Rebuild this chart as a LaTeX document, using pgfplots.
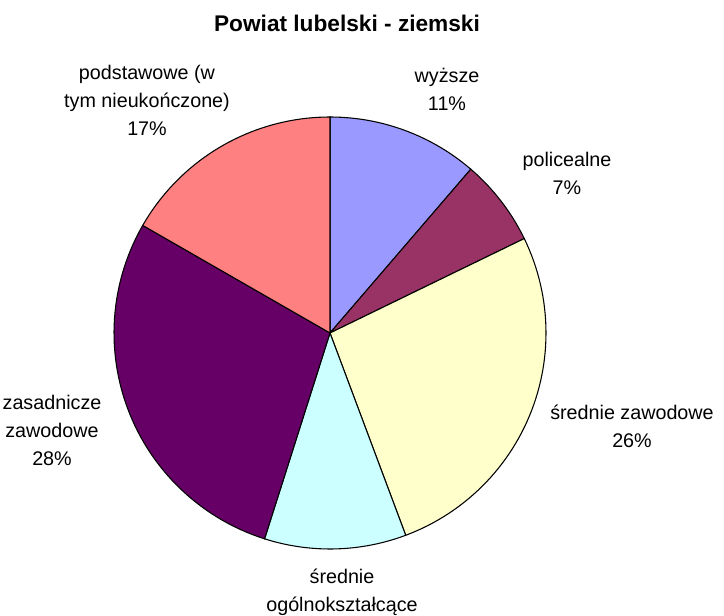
\documentclass[border=0pt]{standalone}
\usepackage{pgfplots}
\pgfplotsset{compat=1.18}
\usepackage{fontspec}
\setmainfont{Liberation Sans}
\definecolor{cA}{HTML}{9999FF}
\definecolor{cB}{HTML}{993366}
\definecolor{cC}{HTML}{FFFFCC}
\definecolor{cD}{HTML}{CCFFFF}
\definecolor{cE}{HTML}{660066}
\definecolor{cF}{HTML}{FF8080}
\begin{document}
\begin{tikzpicture}
\begin{axis}[hide axis, scale only axis, width=543pt, height=462pt,
  xmin=0, xmax=724, ymin=0, ymax=616, clip=false]
\draw[draw=none] (axis cs:0,0) rectangle (axis cs:724,616);
% cumulative shares (percent): 0, 11.3, 17.8, 44.3, 54.9, 83.3, 100
\addplot[fill=cA, draw=black, line width=0.8pt, domain=0:11.3, samples=30] ({330+216*sin(3.6*x)},{283+216*cos(3.6*x)}) -- (axis cs:330,283) -- cycle;
\addplot[fill=cB, draw=black, line width=0.8pt, domain=11.3:17.8, samples=20] ({330+216*sin(3.6*x)},{283+216*cos(3.6*x)}) -- (axis cs:330,283) -- cycle;
\addplot[fill=cC, draw=black, line width=0.8pt, domain=17.8:44.3, samples=60] ({330+216*sin(3.6*x)},{283+216*cos(3.6*x)}) -- (axis cs:330,283) -- cycle;
\addplot[fill=cD, draw=black, line width=0.8pt, domain=44.3:54.9, samples=30] ({330+216*sin(3.6*x)},{283+216*cos(3.6*x)}) -- (axis cs:330,283) -- cycle;
\addplot[fill=cE, draw=black, line width=0.8pt, domain=54.9:83.3, samples=60] ({330+216*sin(3.6*x)},{283+216*cos(3.6*x)}) -- (axis cs:330,283) -- cycle;
\addplot[fill=cF, draw=black, line width=0.8pt, domain=83.3:100, samples=40] ({330+216*sin(3.6*x)},{283+216*cos(3.6*x)}) -- (axis cs:330,283) -- cycle;
\node[font=\bfseries\fontsize{17}{20}\selectfont] at (axis cs:347,593) {Powiat lubelski - ziemski};
\tikzset{lab/.style={align=center, font=\fontsize{14.8}{21}\selectfont, inner sep=0pt}}
\node[lab] at (axis cs:147,516) {podstawowe (w\\tym nieukończone)\\17\%};
\node[lab] at (axis cs:447,527) {wyższe\\11\%};
\node[lab] at (axis cs:567,443) {policealne\\7\%};
\node[lab] at (axis cs:632,190) {średnie zawodowe\\26\%};
\node[lab] at (axis cs:52,186) {zasadnicze\\zawodowe\\28\%};
\node[lab] at (axis cs:342,24) {średnie\\ogólnokształcące};
\end{axis}
\end{tikzpicture}
\end{document}
